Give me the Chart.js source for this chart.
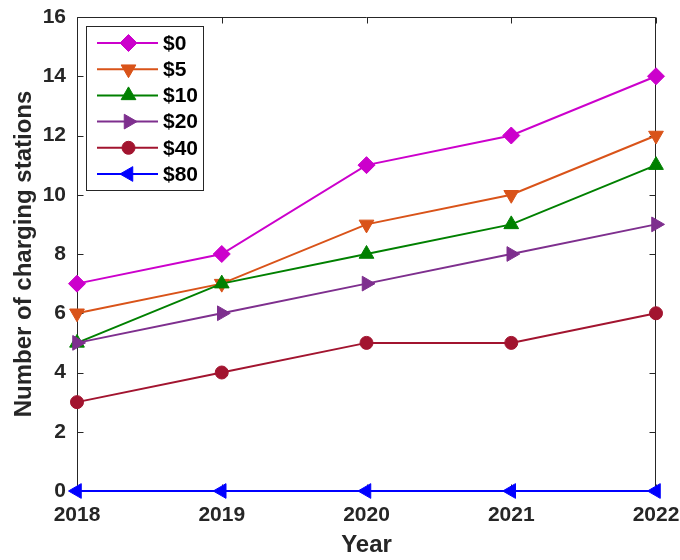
<!DOCTYPE html>
<html>
<head>
<meta charset="utf-8">
<script src="https://cdn.jsdelivr.net/npm/chart.js@4/dist/chart.umd.min.js"></script>
<style>
  html, body { margin: 0; padding: 0; background: #ffffff; }
  #wrap { width: 680px; height: 560px; }
</style>
</head>
<body>
<div id="wrap"><canvas id="chart" width="680" height="560"></canvas></div>
<script>
// Charging stations built per year under each charging fee
const years = [2018, 2019, 2020, 2021, 2022];
const feeLabels = ['$0', '$5', '$10', '$20', '$40', '$80'];
const fee0 = [7, 8, 11, 12, 14];
const fee5 = [6, 7, 9, 10, 12];
const fee10 = [5, 7, 8, 9, 11];
const fee20 = [5, 6, 7, 8, 9];
const fee40 = [3, 4, 5, 5, 6];
const fee80 = [0, 0, 0, 0, 0];
const yTickValues = [0, 2, 4, 6, 8, 10, 12, 14, 16];

const seriesValues = [fee0, fee5, fee10, fee20, fee40, fee80];
const seriesColors = ['#CC00CC', '#D95319', '#008000', '#7E2F8E', '#A2142F', '#0000FF'];
const seriesMarkers = [
  { pointStyle: 'rectRot', rotation: 0, radius: 8.5 },
  { pointStyle: 'triangle', rotation: 180, radius: 8.5 },
  { pointStyle: 'triangle', rotation: 0, radius: 8.5 },
  { pointStyle: 'triangle', rotation: 90, radius: 8.5 },
  { pointStyle: 'circle', rotation: 0, radius: 6.5 },
  { pointStyle: 'triangle', rotation: -90, radius: 8.5 }
];

const FONT = '"Liberation Sans", Arial, Helvetica, sans-serif';
const INK = '#262626';

const datasets = feeLabels.map((label, i) => ({
  label,
  data: seriesValues[i].map((v, k) => ({ x: years[k], y: v })),
  borderColor: seriesColors[i],
  backgroundColor: seriesColors[i],
  borderWidth: 2,
  pointStyle: seriesMarkers[i].pointStyle,
  pointRotation: seriesMarkers[i].rotation,
  pointRadius: seriesMarkers[i].radius,
  pointHoverRadius: seriesMarkers[i].radius,
  pointBorderWidth: 1,
  pointBackgroundColor: seriesColors[i],
  pointBorderColor: seriesColors[i],
  tension: 0,
  clip: false,
  order: feeLabels.length - i
}));

// Axes box with inward tick marks on all four sides
const boxPlugin = {
  id: 'axesBox',
  beforeDatasetsDraw(chart) {
    const { ctx, chartArea: a, scales } = chart;
    const L = Math.round(a.left) + 0.5, R = Math.round(a.right) - 0.5;
    const T = Math.round(a.top) + 0.5, B = Math.round(a.bottom) - 0.5;
    const len = 6;
    ctx.save();
    ctx.strokeStyle = INK;
    ctx.lineWidth = 1;
    ctx.beginPath();
    ctx.rect(L, T, R - L, B - T);
    yTickValues.forEach(v => {
      const y = Math.round(scales.y.getPixelForValue(v)) + 0.5;
      ctx.moveTo(L, y); ctx.lineTo(L + len, y);
      ctx.moveTo(R, y); ctx.lineTo(R - len, y);
    });
    years.forEach(v => {
      const x = Math.round(scales.x.getPixelForValue(v)) + 0.5;
      ctx.moveTo(x, B); ctx.lineTo(x, B - len);
      ctx.moveTo(x, T); ctx.lineTo(x, T + len);
    });
    ctx.stroke();
    ctx.restore();
  }
};

// Legend box: line sample with marker, then the fee label
const legendPlugin = {
  id: 'lineLegend',
  afterDraw(chart) {
    const { ctx } = chart;
    const box = { x: 86.5, y: 26.5, w: 117, h: 164 };
    const rowStart = 43, rowGap = 26.2;
    ctx.save();
    ctx.fillStyle = '#ffffff';
    ctx.fillRect(box.x, box.y, box.w, box.h);
    ctx.strokeStyle = INK;
    ctx.lineWidth = 1;
    ctx.strokeRect(box.x, box.y, box.w, box.h);
    feeLabels.forEach((label, i) => {
      const y = rowStart + i * rowGap;
      ctx.strokeStyle = seriesColors[i];
      ctx.lineWidth = 2;
      ctx.beginPath();
      ctx.moveTo(97, y);
      ctx.lineTo(158, y);
      ctx.stroke();
      ctx.fillStyle = seriesColors[i];
      ctx.strokeStyle = seriesColors[i];
      ctx.lineWidth = 1;
      Chart.helpers.drawPoint(ctx, {
        pointStyle: seriesMarkers[i].pointStyle,
        rotation: seriesMarkers[i].rotation,
        radius: seriesMarkers[i].radius,
        borderWidth: 1
      }, 128.5, y);
      ctx.fillStyle = '#000000';
      ctx.font = 'bold 21px ' + FONT;
      ctx.textAlign = 'left';
      ctx.textBaseline = 'middle';
      ctx.fillText(label, 163, y + 1);
    });
    ctx.restore();
  }
};

// Keep the plot frame fixed: no extra room for label overhang
function noOverhang(scale) {
  scale.paddingLeft = 0;
  scale.paddingRight = 0;
  scale.paddingTop = 0;
  scale.paddingBottom = 0;
}

new Chart(document.getElementById('chart'), {
  type: 'line',
  data: { datasets },
  options: {
    responsive: false,
    animation: false,
    devicePixelRatio: 1,
    layout: { padding: { top: 17, right: 24, left: 0, bottom: 0 } },
    plugins: { legend: { display: false }, tooltip: { enabled: false } },
    scales: {
      x: {
        type: 'linear',
        min: 2018,
        max: 2022,
        grid: { display: false, drawTicks: false },
        border: { display: false },
        ticks: {
          stepSize: 1,
          padding: 12,
          color: INK,
          font: { family: FONT, size: 21, weight: 'bold' },
          callback: v => String(v)
        },
        title: {
          display: true,
          text: 'Year',
          color: INK,
          font: { family: FONT, size: 24, weight: 'bold' },
          padding: { top: 0, bottom: 0 }
        },
        afterFit(scale) { scale.height = 69; noOverhang(scale); }
      },
      y: {
        min: 0,
        max: 16,
        grid: { display: false, drawTicks: false },
        border: { display: false },
        ticks: {
          stepSize: 2,
          padding: 11,
          color: INK,
          font: { family: FONT, size: 21, weight: 'bold' }
        },
        title: {
          display: true,
          text: 'Number of charging stations',
          color: INK,
          font: { family: FONT, size: 24, weight: 'bold' },
          padding: { top: 10, bottom: 0 }
        },
        afterFit(scale) { scale.width = 77; noOverhang(scale); }
      }
    }
  },
  plugins: [boxPlugin, legendPlugin]
});
</script>
</body>
</html>
